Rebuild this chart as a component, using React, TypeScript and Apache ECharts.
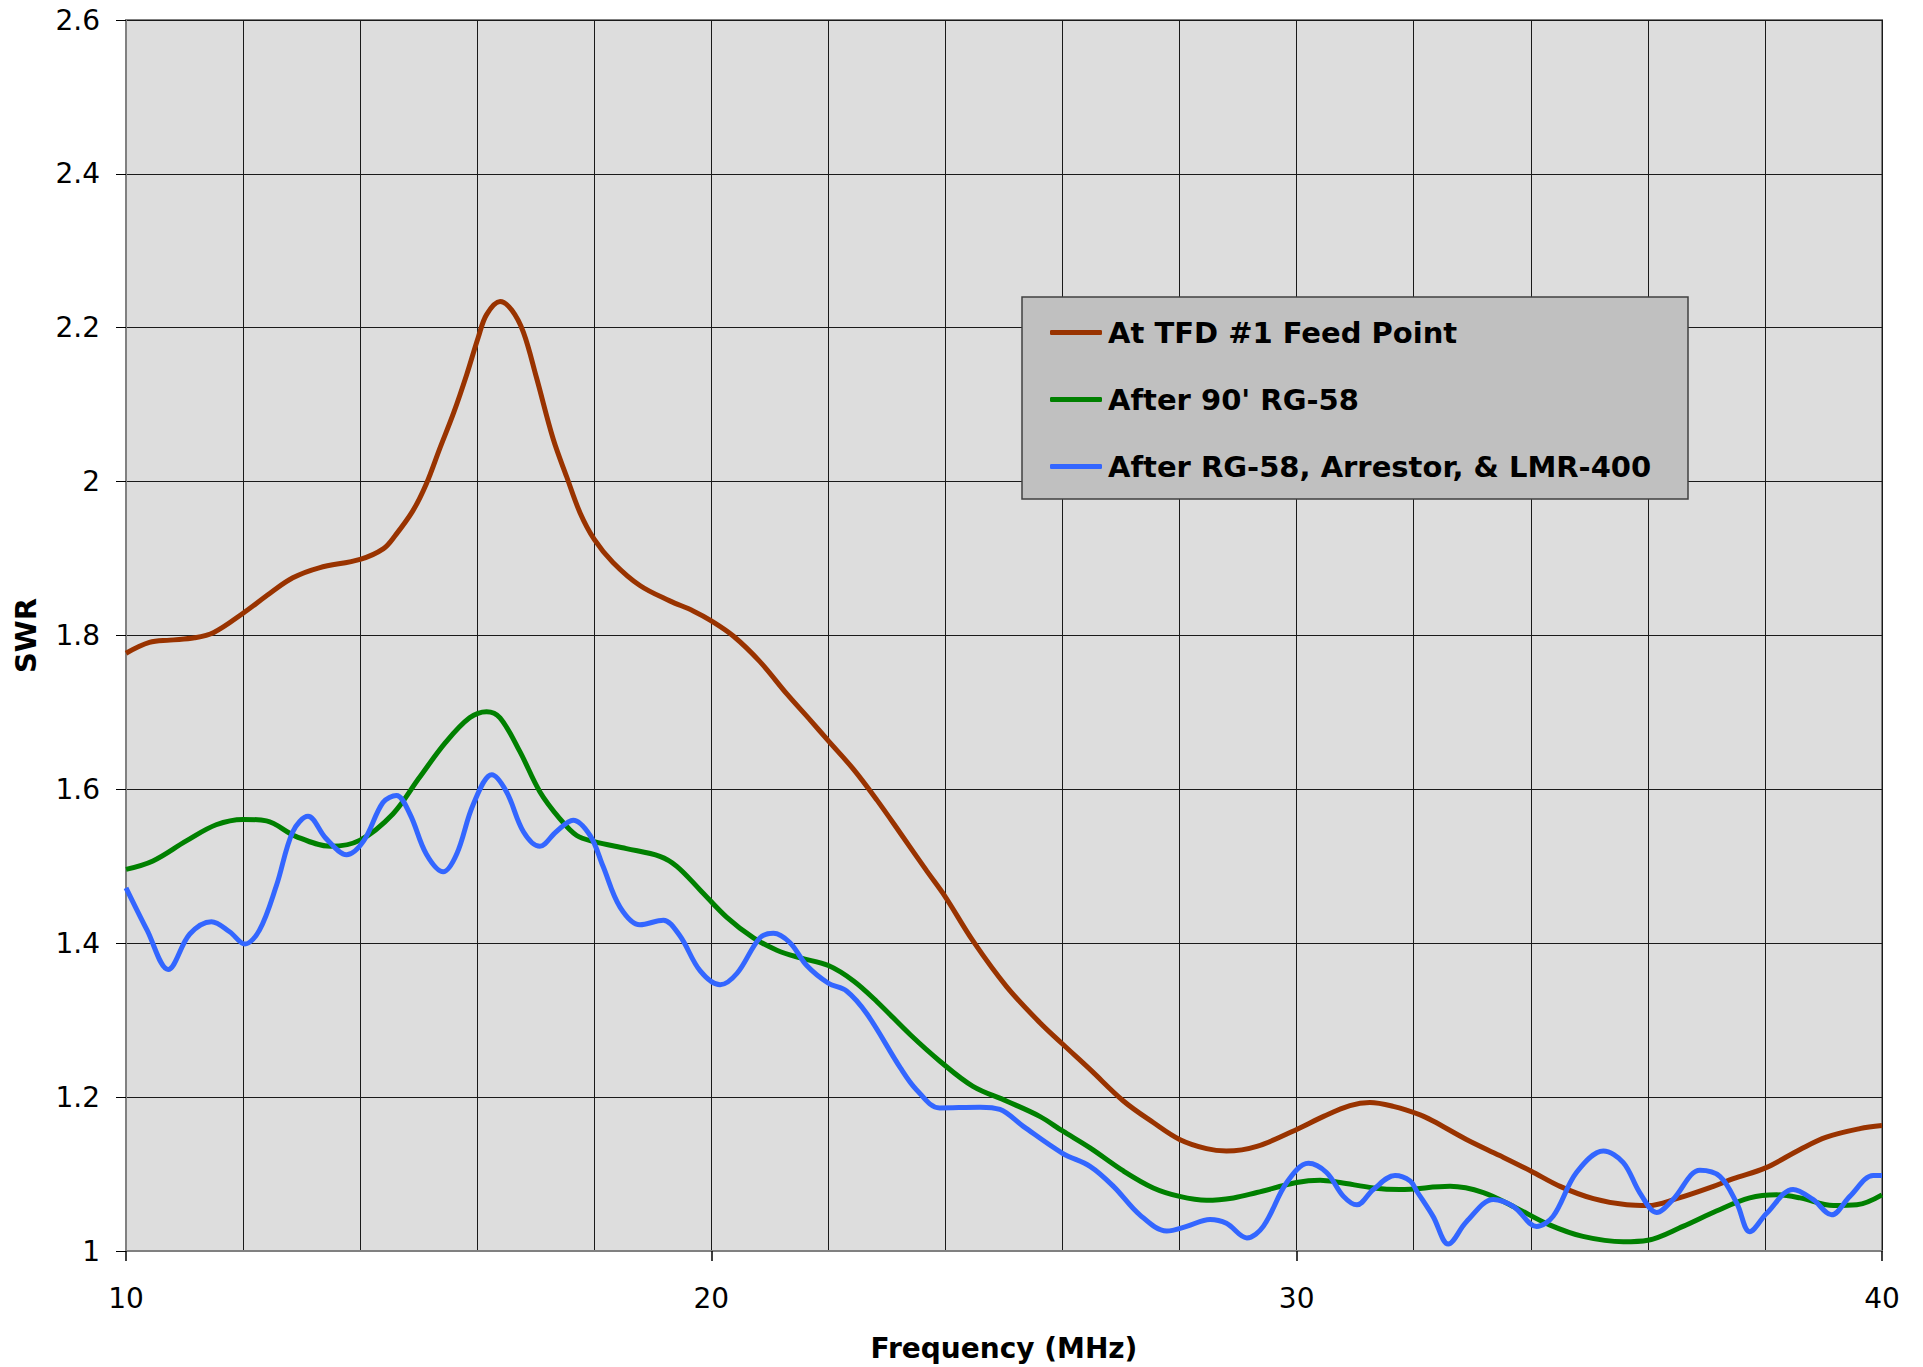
import React, { useEffect, useRef } from "react";
import * as echarts from "echarts";

// ---- Data ----
const seriesNames = [
  "At TFD #1 Feed Point",
  "After 90' RG-58",
  "After RG-58, Arrestor, & LMR-400",
];

const redFreq = [
  10, 10.4, 10.75, 11.17, 11.5, 12, 12.46, 12.85, 13.3, 14, 14.4, 14.6, 14.9, 15.13, 15.36, 15.6, 15.82,
  16.02, 16.16, 16.39, 16.59, 16.79, 17.01, 17.3, 17.53, 17.76, 18, 18.32, 18.78, 19.29, 19.69, 20,
  20.38, 20.83, 21.29, 21.69, 22, 22.43, 22.83, 23.23, 23.68, 24, 24.47, 25.04, 25.61, 26, 26.47, 27.04,
  27.55, 28, 28.46, 28.8, 29.32, 30, 30.46, 30.91, 31.25, 31.65, 32.11, 32.33, 32.9, 33.47, 34, 34.5,
  35.07, 35.64, 36, 36.49, 37.12, 37.46, 38.01, 38.6, 39.05, 39.62, 40,
];
const redSwr = [
  1.777, 1.791, 1.794, 1.797, 1.804, 1.829, 1.855, 1.875, 1.888, 1.899, 1.913, 1.93, 1.962, 1.997, 2.043,
  2.09, 2.139, 2.188, 2.217, 2.234, 2.223, 2.194, 2.136, 2.055, 2.006, 1.959, 1.925, 1.895, 1.865, 1.845,
  1.832, 1.819, 1.799, 1.766, 1.724, 1.69, 1.663, 1.626, 1.586, 1.543, 1.494, 1.46, 1.403, 1.344, 1.297,
  1.269, 1.236, 1.195, 1.167, 1.145, 1.133, 1.13, 1.136, 1.158, 1.175, 1.189, 1.193, 1.188, 1.177, 1.169,
  1.145, 1.124, 1.104, 1.084, 1.068, 1.06, 1.059, 1.068, 1.084, 1.094, 1.108, 1.132, 1.148, 1.159, 1.163,
];

const greenFreq = [
  10, 10.46, 11.03, 11.54, 12, 12.4, 12.9, 13.5, 14, 14.56, 15, 15.46, 15.87, 16.16, 16.39, 16.73, 17.07,
  17.41, 17.7, 18, 18.55, 19.12, 19.41, 19.8, 20.26, 20.72, 21.12, 21.52, 22, 22.43, 22.83, 23.4, 23.9,
  24.47, 25.04, 25.61, 26, 26.47, 27.04, 27.55, 28, 28.46, 28.92, 29.32, 30, 30.4, 30.74, 31.31, 31.76,
  32.62, 33.19, 33.75, 34.32, 34.89, 35.58, 36, 36.6, 37.17, 37.74, 38.2, 38.6, 39.17, 39.57, 40,
];
const greenSwr = [
  1.496, 1.507, 1.533, 1.554, 1.561, 1.559, 1.539, 1.526, 1.534, 1.568, 1.614, 1.661, 1.693, 1.701, 1.693,
  1.649, 1.597, 1.562, 1.54, 1.532, 1.523, 1.513, 1.5, 1.47, 1.434, 1.407, 1.391, 1.381, 1.371, 1.351,
  1.324, 1.281, 1.247, 1.214, 1.195, 1.175, 1.156, 1.134, 1.104, 1.082, 1.071, 1.066, 1.069, 1.076, 1.089,
  1.092, 1.089, 1.082, 1.08, 1.084, 1.076, 1.056, 1.034, 1.019, 1.012, 1.014, 1.032, 1.052, 1.069, 1.073,
  1.069, 1.059, 1.06, 1.073,
];

const blueFreq = [
  10, 10.36, 10.72, 11.09, 11.46, 11.77, 12.03, 12.28, 12.57, 12.85, 13.11, 13.42, 13.77, 14.06, 14.39,
  14.62, 14.85, 15.13, 15.42, 15.65, 15.93, 16.25, 16.5, 16.79, 17.07, 17.35, 17.64, 17.93, 18.15, 18.44,
  18.78, 19.18, 19.46, 19.81, 20.15, 20.44, 20.83, 21.06, 21.34, 21.63, 22, 22.31, 22.66, 23.23, 23.5,
  23.9, 24.59, 24.93, 25.33, 26, 26.47, 26.87, 27.32, 27.78, 28.12, 28.52, 28.8, 29.15, 29.43, 29.83,
  30.2, 30.51, 30.8, 31.03, 31.31, 31.68, 31.94, 32.05, 32.33, 32.59, 32.9, 33.36, 33.7, 34.1, 34.38,
  34.78, 35.24, 35.58, 35.86, 36.15, 36.43, 36.89, 37.23, 37.52, 37.74, 38.03, 38.48, 38.82, 39.14,
  39.45, 39.85, 40,
];
const blueSwr = [
  1.472, 1.417, 1.366, 1.412, 1.428, 1.415, 1.399, 1.417, 1.475, 1.545, 1.565, 1.536, 1.515, 1.533, 1.583,
  1.592, 1.568, 1.516, 1.493, 1.516, 1.58, 1.619, 1.597, 1.545, 1.526, 1.545, 1.56, 1.54, 1.5, 1.447,
  1.424, 1.43, 1.41, 1.364, 1.346, 1.361, 1.407, 1.413, 1.401, 1.371, 1.348, 1.338, 1.308, 1.238, 1.21,
  1.186, 1.187, 1.184, 1.162, 1.127, 1.11, 1.084, 1.047, 1.026, 1.032, 1.041, 1.036, 1.017, 1.032, 1.089,
  1.114, 1.102, 1.071, 1.06, 1.08, 1.098, 1.091, 1.078, 1.045, 1.009, 1.038, 1.067, 1.058, 1.032, 1.045,
  1.102, 1.13, 1.115, 1.076, 1.05, 1.067, 1.105, 1.097, 1.062, 1.025, 1.049, 1.08, 1.067, 1.047,
  1.071, 1.098, 1.098,
];

const seriesColors = ["#993300", "#008000", "#3366ff"];

const zip = (xs: number[], ys: number[]) => xs.map((x, i) => [x, ys[i]]);

export default function App() {
  const ref = useRef<HTMLDivElement>(null);

  useEffect(() => {
    if (!ref.current) return;
    const chart = echarts.init(ref.current, undefined, { renderer: "svg" });
    const tickFont = { fontFamily: "DejaVu Sans", fontSize: 28, color: "#000" };
    const nameFont = { fontFamily: "DejaVu Sans", fontSize: 28, fontWeight: "bold" as const, color: "#000" };
    const gridLine = { color: "#1a1a1a", width: 1 };
    const datasets = [zip(redFreq, redSwr), zip(greenFreq, greenSwr), zip(blueFreq, blueSwr)];

    chart.setOption({
      animation: false,
      backgroundColor: "#ffffff",
      grid: {
        left: 126,
        right: 41,
        top: 20,
        bottom: 115,
        show: true,
        backgroundColor: "#dddddd",
        borderColor: "#808080",
        borderWidth: 2,
        containLabel: false,
      },
      xAxis: {
        type: "value",
        min: 10,
        max: 40,
        interval: 10,
        name: "Frequency (MHz)",
        nameLocation: "middle",
        nameGap: 83,
        nameTextStyle: nameFont,
        axisLine: { show: true, lineStyle: { color: "#808080", width: 2 } },
        axisTick: { show: true, length: 10, lineStyle: { color: "#000", width: 1.5 } },
        axisLabel: { ...tickFont, margin: 33 },
        splitLine: { show: true, lineStyle: gridLine },
        minorTick: { show: false, splitNumber: 5 },
        minorSplitLine: { show: true, lineStyle: gridLine },
      },
      yAxis: {
        type: "value",
        min: 1,
        max: 2.6,
        interval: 0.2,
        name: "SWR",
        nameLocation: "middle",
        nameGap: 86,
        nameRotate: 90,
        nameTextStyle: { ...nameFont, fontSize: 29 },
        axisLine: { show: true, lineStyle: { color: "#808080", width: 2 } },
        axisTick: { show: true, length: 10, lineStyle: { color: "#000", width: 1 } },
        axisLabel: { ...tickFont, margin: 26 },
        splitLine: { show: true, lineStyle: gridLine },
      },
      graphic: [
        {
          type: "rect",
          z: 10,
          shape: { x: 1022, y: 297, width: 666, height: 202 },
          style: { fill: "#c0c0c0", stroke: "#404040", lineWidth: 1.5 },
        },
      ],
      legend: {
        z: 20,
        orient: "vertical",
        left: 1050,
        top: 318,
        padding: 0,
        itemGap: 38,
        itemWidth: 52,
        itemHeight: 5,
        icon: "roundRect",
        selectedMode: false,
        textStyle: {
          fontFamily: "DejaVu Sans",
          fontWeight: "bold",
          fontSize: 29,
          color: "#000",
          padding: [0, 0, 0, 1],
        },
        data: seriesNames,
      },
      series: datasets.map((d, i) => ({
        name: seriesNames[i],
        type: "line",
        data: d,
        symbol: "none",
        showSymbol: false,
        smooth: 0.35,
        lineStyle: { color: seriesColors[i], width: 5 },
        itemStyle: { color: seriesColors[i] },
        z: 3 + i,
      })),
    });
    return () => chart.dispose();
  }, []);

  return (
    <div
      ref={ref}
      style={{ position: "fixed", left: 0, top: 0, width: 1923, height: 1367, background: "#fff" }}
    />
  );
}
